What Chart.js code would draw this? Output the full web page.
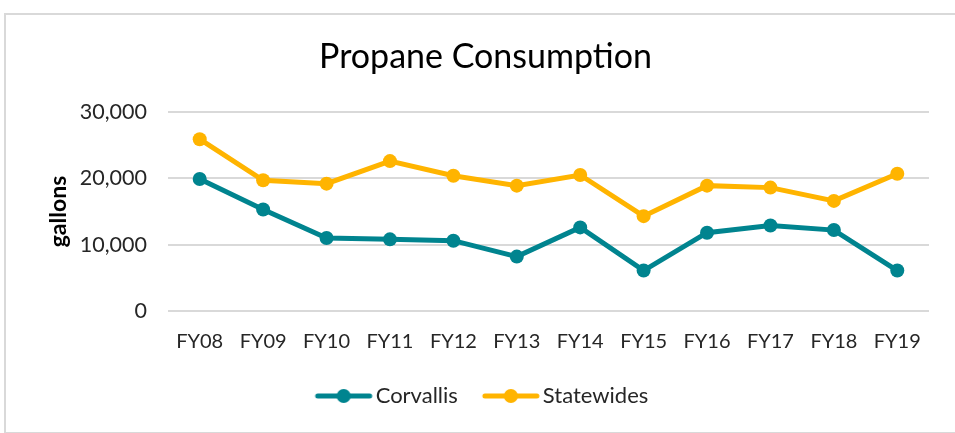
<!DOCTYPE html>
<html>
<head>
<meta charset="utf-8">
<script src="https://cdn.jsdelivr.net/npm/chart.js@4"></script>
<style>
  html, body { margin: 0; padding: 0; background: #fff; }
  body { width: 955px; height: 433px; position: relative; overflow: hidden; }
  #frame {
    position: absolute; left: 4px; top: 13px; width: 970px; height: 417px;
    border: 2px solid #d9d9d9;
  }
  #wrap { position: absolute; left: 0; top: 0; width: 955px; height: 433px; }
</style>
</head>
<body>
<div id="frame"></div>
<div id="wrap"><canvas id="chart" width="955" height="433"></canvas></div>
<script>
/* ===== DATA ===== */
const years = ["FY08", "FY09", "FY10", "FY11", "FY12", "FY13", "FY14", "FY15", "FY16", "FY17", "FY18", "FY19"];
const corvallis = [19900, 15300, 11000, 10800, 10600, 8200, 12600, 6100, 11800, 12900, 12200, 6100];
const statewides = [25900, 19700, 19200, 22600, 20400, 18900, 20500, 14300, 18900, 18600, 16600, 20700];
const yTicks = [0, 10000, 20000, 30000];

const TEAL = "#00848f";
const GOLD = "#ffb400";
const FONT = "Lato, 'Open Sans', sans-serif";

/* legend marker: a short line with a dot in the middle */
function legendMarker(color) {
  const c = document.createElement("canvas");
  c.width = 60;
  c.height = 16;
  const g = c.getContext("2d");
  g.strokeStyle = color;
  g.lineWidth = 5;
  g.lineCap = "round";
  g.beginPath();
  g.moveTo(4, 8);
  g.lineTo(56, 8);
  g.stroke();
  g.fillStyle = color;
  g.beginPath();
  g.arc(30, 8, 7, 0, Math.PI * 2);
  g.fill();
  return c;
}

function series(label, data, color) {
  return {
    label,
    data,
    borderColor: color,
    backgroundColor: color,
    borderWidth: 5,
    pointStyle: "circle",
    pointRadius: 7,
    pointHoverRadius: 7,
    pointBorderWidth: 0,
    tension: 0
  };
}

/* ===== CHART ===== */
const ctx = document.getElementById("chart");
// a tiny letter spacing stops Lato from drawing the "ti" ligature
const c2d = ctx.getContext("2d");
if ("letterSpacing" in c2d) c2d.letterSpacing = "0.1px";

new Chart(ctx, {
  type: "line",
  data: {
    labels: years,
    datasets: [
      series("Corvallis", corvallis, TEAL),
      series("Statewides", statewides, GOLD)
    ]
  },
  options: {
    responsive: false,
    animation: false,
    devicePixelRatio: 1,
    layout: { padding: { left: 42, right: 26, top: 0, bottom: 16 } },
    plugins: {
      title: {
        display: true,
        text: "Propane Consumption",
        color: "#000",
        font: { family: FONT, size: 34, weight: "normal" },
        padding: { top: 36.6, bottom: 34.6 }
      },
      legend: {
        position: "bottom",
        labels: {
          usePointStyle: true,
          pointStyleWidth: 42,
          color: "#262626",
          font: { family: FONT, size: 22 },
          padding: 32,
          generateLabels(chart) {
            return chart.data.datasets.map((ds, i) => ({
              text: ds.label,
              fillStyle: ds.borderColor,
              strokeStyle: ds.borderColor,
              lineWidth: 0,
              pointStyle: legendMarker(ds.borderColor),
              fontColor: "#262626",
              hidden: false,
              datasetIndex: i
            }));
          }
        }
      },
      tooltip: { enabled: false }
    },
    scales: {
      x: {
        offset: true,
        grid: { display: false, drawTicks: false },
        border: { display: false },
        ticks: { color: "#262626", font: { family: FONT, size: 20 }, padding: 19, maxRotation: 0 },
        afterFit(scale) { scale.height = 42; }
      },
      y: {
        min: 0,
        max: 30000,
        afterBuildTicks(scale) { scale.ticks = yTicks.map(v => ({ value: v })); },
        grid: { color: "#d9d9d9", lineWidth: 2, drawTicks: false },
        border: { display: false },
        ticks: {
          color: "#262626",
          font: { family: FONT, size: 21.5 },
          padding: 21,
          callback: v => v.toLocaleString("en-US")
        },
        title: {
          display: true,
          text: "gallons",
          color: "#000",
          font: { family: FONT, size: 23, weight: "bold" },
          padding: { top: 3, bottom: 0 }
        },
        afterFit(scale) { scale.width = 126; }
      }
    }
  }
});
</script>
</body>
</html>
